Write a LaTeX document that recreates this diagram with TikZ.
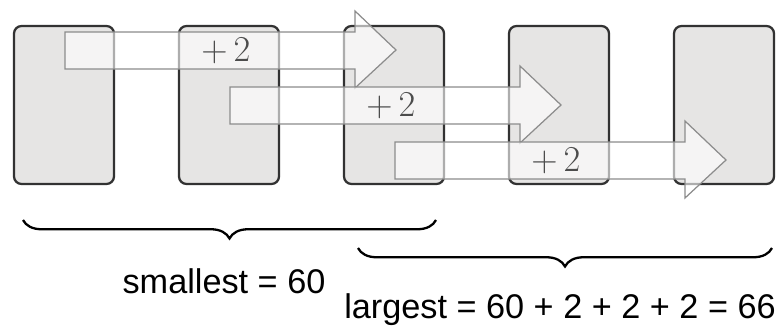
\documentclass[tikz,border=0pt]{standalone}
\usepackage{fontspec}
\setsansfont{Liberation Sans}
\usepackage{tikz}
\usetikzlibrary{decorations.pathreplacing}
\definecolor{slotgray}{RGB}{230,229,228}
\definecolor{slotedge}{RGB}{50,50,50}
\definecolor{arrowedge}{RGB}{140,140,140}

\begin{document}
\begin{tikzpicture}[x=0.02cm, y=-0.02cm,
    slot/.style={draw=slotedge, fill=slotgray, line width=1.3pt, rounded corners=0.15cm,
      minimum width=2cm, minimum height=3.16cm, inner sep=0pt},
    blockarrow/.style={draw=arrowedge, fill=white, fill opacity=0.6, line width=0.7pt},
    steplabel/.style={font=\fontsize{22}{26}\selectfont, text=black!70},
    bracebelow/.style={decorate, decoration={brace, mirror, amplitude=0.37cm}, line width=1.3pt},
    sumtext/.style={font=\sffamily\fontsize{19.5}{23}\selectfont, anchor=base}]
  \useasboundingbox (0,0) rectangle (782,328);
  % Slots
  \foreach \i in {1,...,5}
    \node[slot] (b\i) at ({64+165*(\i-1)},105) {};
  % Shifted +2 arrows
  \foreach \i/\j in {0/1,1/2,2/3} {
    \begin{scope}[shift={(165*\i,55*\i)}]
      \draw[blockarrow] (65,32) -- (355,32) -- (355,11) -- (396,50) -- (355,88)
        -- (355,69) -- (65,69) -- cycle;
      \node[steplabel] (p\j) at (226,51) {$+\,2$};
    \end{scope}
  }
  % Braces
  \draw[bracebelow] (23,220) -- (436,220);
  \draw[bracebelow] (358,248) -- (772,248);
  % Labels
  \node[sumtext] (smallest) at (224,293) {smallest = 60};
  \node[sumtext] (largest) at (560,318) {largest = 60 + 2 + 2 + 2 = 66};
\end{tikzpicture}
\end{document}
